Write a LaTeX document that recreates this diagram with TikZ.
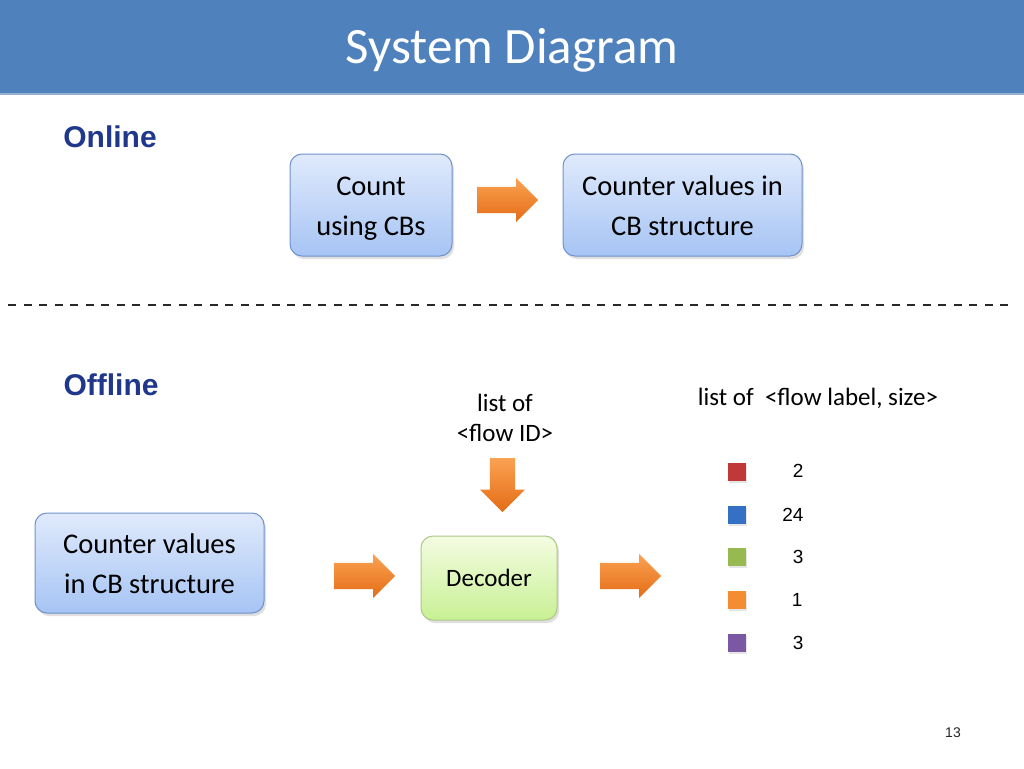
\documentclass[tikz,border=0pt]{standalone}
\usepackage{fontspec}
\setmainfont{Carlito}
\newfontfamily\arialfont{Liberation Sans}
\usetikzlibrary{positioning,calc,shadows,shapes.arrows}
\definecolor{sdHead}{RGB}{79,129,189}
\definecolor{sdHeadLine}{RGB}{150,176,212}
\definecolor{sdNavy}{RGB}{31,56,140}
\definecolor{sdBoxTop}{RGB}{224,234,252}
\definecolor{sdBoxBot}{RGB}{166,196,244}
\definecolor{sdBoxLine}{RGB}{112,146,204}
\definecolor{sdGreenTop}{RGB}{244,252,226}
\definecolor{sdGreenBot}{RGB}{200,240,148}
\definecolor{sdGreenLine}{RGB}{172,200,132}
\definecolor{sdOrangeTop}{RGB}{250,162,82}
\definecolor{sdOrangeBot}{RGB}{228,108,22}
\definecolor{sdDash}{RGB}{40,40,40}
\definecolor{flowRed}{RGB}{192,57,56}
\definecolor{flowBlue}{RGB}{52,112,196}
\definecolor{flowGreen}{RGB}{150,186,80}
\definecolor{flowOrange}{RGB}{244,140,50}
\definecolor{flowPurple}{RGB}{122,88,164}
% strut: 30pt above the first baseline, 10pt below the last one
\newcommand{\boxstrut}{\rule[-10pt]{0pt}{40pt}}
\tikzset{
    base/.style={font=\fontsize{28.5}{40}\selectfont, align=center},
    block/.style={base, rectangle, rounded corners=12pt, draw=sdBoxLine, line width=1pt,
                  top color=sdBoxTop, bottom color=sdBoxBot, inner sep=0pt,
                  drop shadow={opacity=0.25, shadow xshift=2pt, shadow yshift=-3pt}},
    decoder/.style={block, draw=sdGreenLine, top color=sdGreenTop, bottom color=sdGreenBot,
                    font=\fontsize{25}{30}\selectfont},
    fatarrow/.style={single arrow, single arrow head extend=9pt, inner xsep=0pt,
                     inner ysep=13pt, minimum height=61pt, draw=none, anchor=west,
                     top color=sdOrangeTop, bottom color=sdOrangeBot},
    section/.style={font=\arialfont\bfseries\fontsize{30}{36}\selectfont, text=sdNavy},
    note/.style={font=\fontsize{25}{30}\selectfont, align=center},
    swatch/.style={minimum size=18pt, inner sep=0pt,
                   drop shadow={opacity=0.2, shadow xshift=1pt, shadow yshift=-1.5pt}},
    size/.style={font=\arialfont\fontsize{19}{22}\selectfont, anchor=east}
}
\begin{document}
\begin{tikzpicture}[x=1pt, y=-1pt]
  \useasboundingbox[fill=white] (0,0) rectangle (1024,768);

  % Title bar
  \fill[sdHead] (0,0) rectangle (1024,93);
  \draw[sdHeadLine, line width=2pt] (0,94) -- (1024,94);
  \node[font=\fontsize{51}{60}\selectfont, text=white] (title) at (512,50) {System Diagram};

  % Online part
  \node[section] (online) at (110,137) {Online};
  \node[block, minimum width=162pt, minimum height=102pt] (cnt) at (371,205) {\boxstrut Count\\using CBs\boxstrut};
  \node[block, minimum width=239pt, minimum height=102pt] (cbs) at (682.5,205) {\boxstrut Counter values in\\CB structure\boxstrut};
  \node[fatarrow] (a1) at (477,200) {};

  % Separator
  \draw[sdDash, line width=2.5pt, dash pattern=on 8pt off 7.5pt] (8,305) -- (1015,305);

  % Offline part
  \node[section] (offline) at (111,385) {Offline};
  \node[block, minimum width=229pt, minimum height=100pt] (src) at (149.5,563) {\boxstrut Counter values\\in CB structure\boxstrut};
  \node[decoder, minimum width=136pt, minimum height=84pt] (dec) at (489,578) {Decoder};
  \node[fatarrow] (a2) at (334,576) {};
  \node[fatarrow] (a3) at (600,576) {};
  \node[note] (ids) at (505,418) {list of\\<flow ID>};
  \node[fatarrow, minimum height=54pt, inner ysep=12.5pt, single arrow head extend=10pt,
        rotate=-90] (a4) at (502.5,458) {};

  % Decoded flows
  \node[note] (out) at (818,398) {list of\ \ <flow label, size>};
  \node[swatch, fill=flowRed] (f1) at (737,472) {};
  \node[swatch, fill=flowBlue] (f2) at (737,515) {};
  \node[swatch, fill=flowGreen] (f3) at (737,557) {};
  \node[swatch, fill=flowOrange] (f4) at (737,600) {};
  \node[swatch, fill=flowPurple] (f5) at (737,643) {};
  \node[size] (s1) at (807,471) {2};
  \node[size] (s2) at (807,515) {24};
  \node[size] (s3) at (807,557) {3};
  \node[size] (s4) at (806,600) {1};
  \node[size] (s5) at (807,643) {3};

  % Page number
  \node[font=\arialfont\fontsize{14}{16}\selectfont, text=sdDash] (page) at (953,733) {13};
\end{tikzpicture}
\end{document}
